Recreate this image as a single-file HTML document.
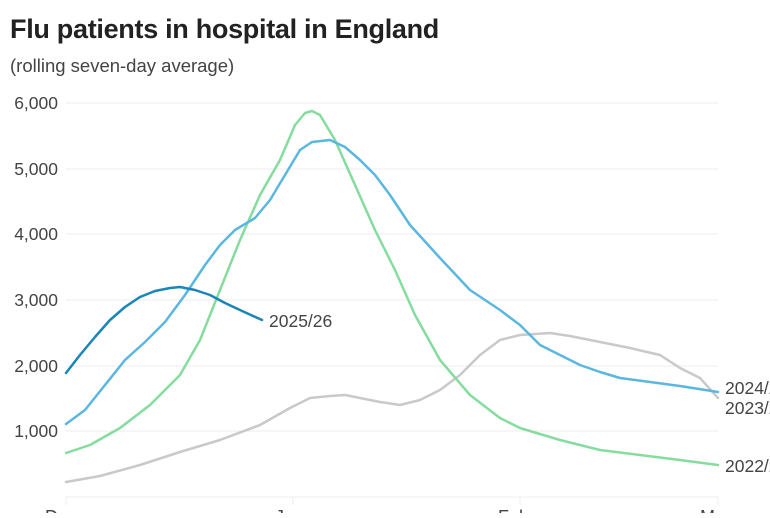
<!DOCTYPE html>
<html><head><style>
body{margin:0;background:#fff;width:770px;height:513px;overflow:hidden;font-family:"Liberation Sans",sans-serif}
</style></head><body>
<svg width="770" height="513" xmlns="http://www.w3.org/2000/svg" font-family="Liberation Sans, sans-serif">
<text x="10" y="38" font-size="27" font-weight="bold" fill="#222" letter-spacing="-0.3">Flu patients in hospital in England</text>
<text x="10" y="72" font-size="18.5" fill="#444">(rolling seven-day average)</text>
<g stroke="#ececec" stroke-width="1">
<line x1="66" x2="718" y1="103" y2="103"/><line x1="66" x2="718" y1="169" y2="169"/>
<line x1="66" x2="718" y1="234" y2="234"/><line x1="66" x2="718" y1="300" y2="300"/>
<line x1="66" x2="718" y1="366" y2="366"/><line x1="66" x2="718" y1="431" y2="431"/>
<line x1="66" x2="718" y1="497" y2="497"/>
<line x1="66" x2="66" y1="497" y2="505"/><line x1="293" x2="293" y1="497" y2="505"/>
<line x1="520" x2="520" y1="497" y2="505"/><line x1="718" x2="718" y1="497" y2="505"/>
</g>
<g font-size="17.5" fill="#444" text-anchor="end">
<text x="58" y="109">6,000</text><text x="58" y="175">5,000</text><text x="58" y="240">4,000</text>
<text x="58" y="306">3,000</text><text x="58" y="372">2,000</text><text x="58" y="437">1,000</text>
</g>
<g font-size="18" fill="#444">
<text x="45" y="523">Dec</text><text x="275" y="523">Jan</text><text x="498" y="523">Feb</text><text x="700" y="523">Mar</text>
</g>
<g fill="none" stroke-width="2.5" stroke-linejoin="round" stroke-linecap="round">
<polyline stroke="#c9c9c9" points="66,482 100,476 140,465 180,452 220,440 260,425 290,408 310,398 330,396 345,395 360,398 380,402 400,405 420,400 440,390 460,375 480,355 500,340 520,335 550,333 570,336 600,342 630,348 660,355 680,368 700,378 718,398"/>
<polyline stroke="#86dc9f" points="66,453 90,445 120,428 150,405 180,375 200,340 220,290 240,240 260,195 280,160 295,125 305,113 312,111 320,115 335,140 355,185 375,230 395,270 415,315 440,360 470,395 500,418 520,428 560,440 600,450 640,455 680,460 718,465"/>
<polyline stroke="#5bb7e0" points="66,424 85,410 105,385 125,360 145,342 165,322 185,295 205,265 220,245 235,230 255,218 270,200 285,175 300,150 312,142 330,140 345,147 360,160 375,175 390,195 410,225 440,258 470,290 500,310 520,325 540,345 560,355 580,365 600,372 620,378 650,382 680,386 718,392"/>
<polyline stroke="#1a86b8" points="66,373 80,355 95,337 110,320 125,307 140,297 155,291 170,288 180,287 195,290 210,295 225,303 240,310 262,320"/>
</g>
<g font-size="17.5" fill="#444">
<text x="269" y="327">2025/26</text>
<text x="725" y="394">2024/25</text>
<text x="725" y="414">2023/24</text>
<text x="725" y="472">2022/23</text>
</g>
</svg>
</body></html>
